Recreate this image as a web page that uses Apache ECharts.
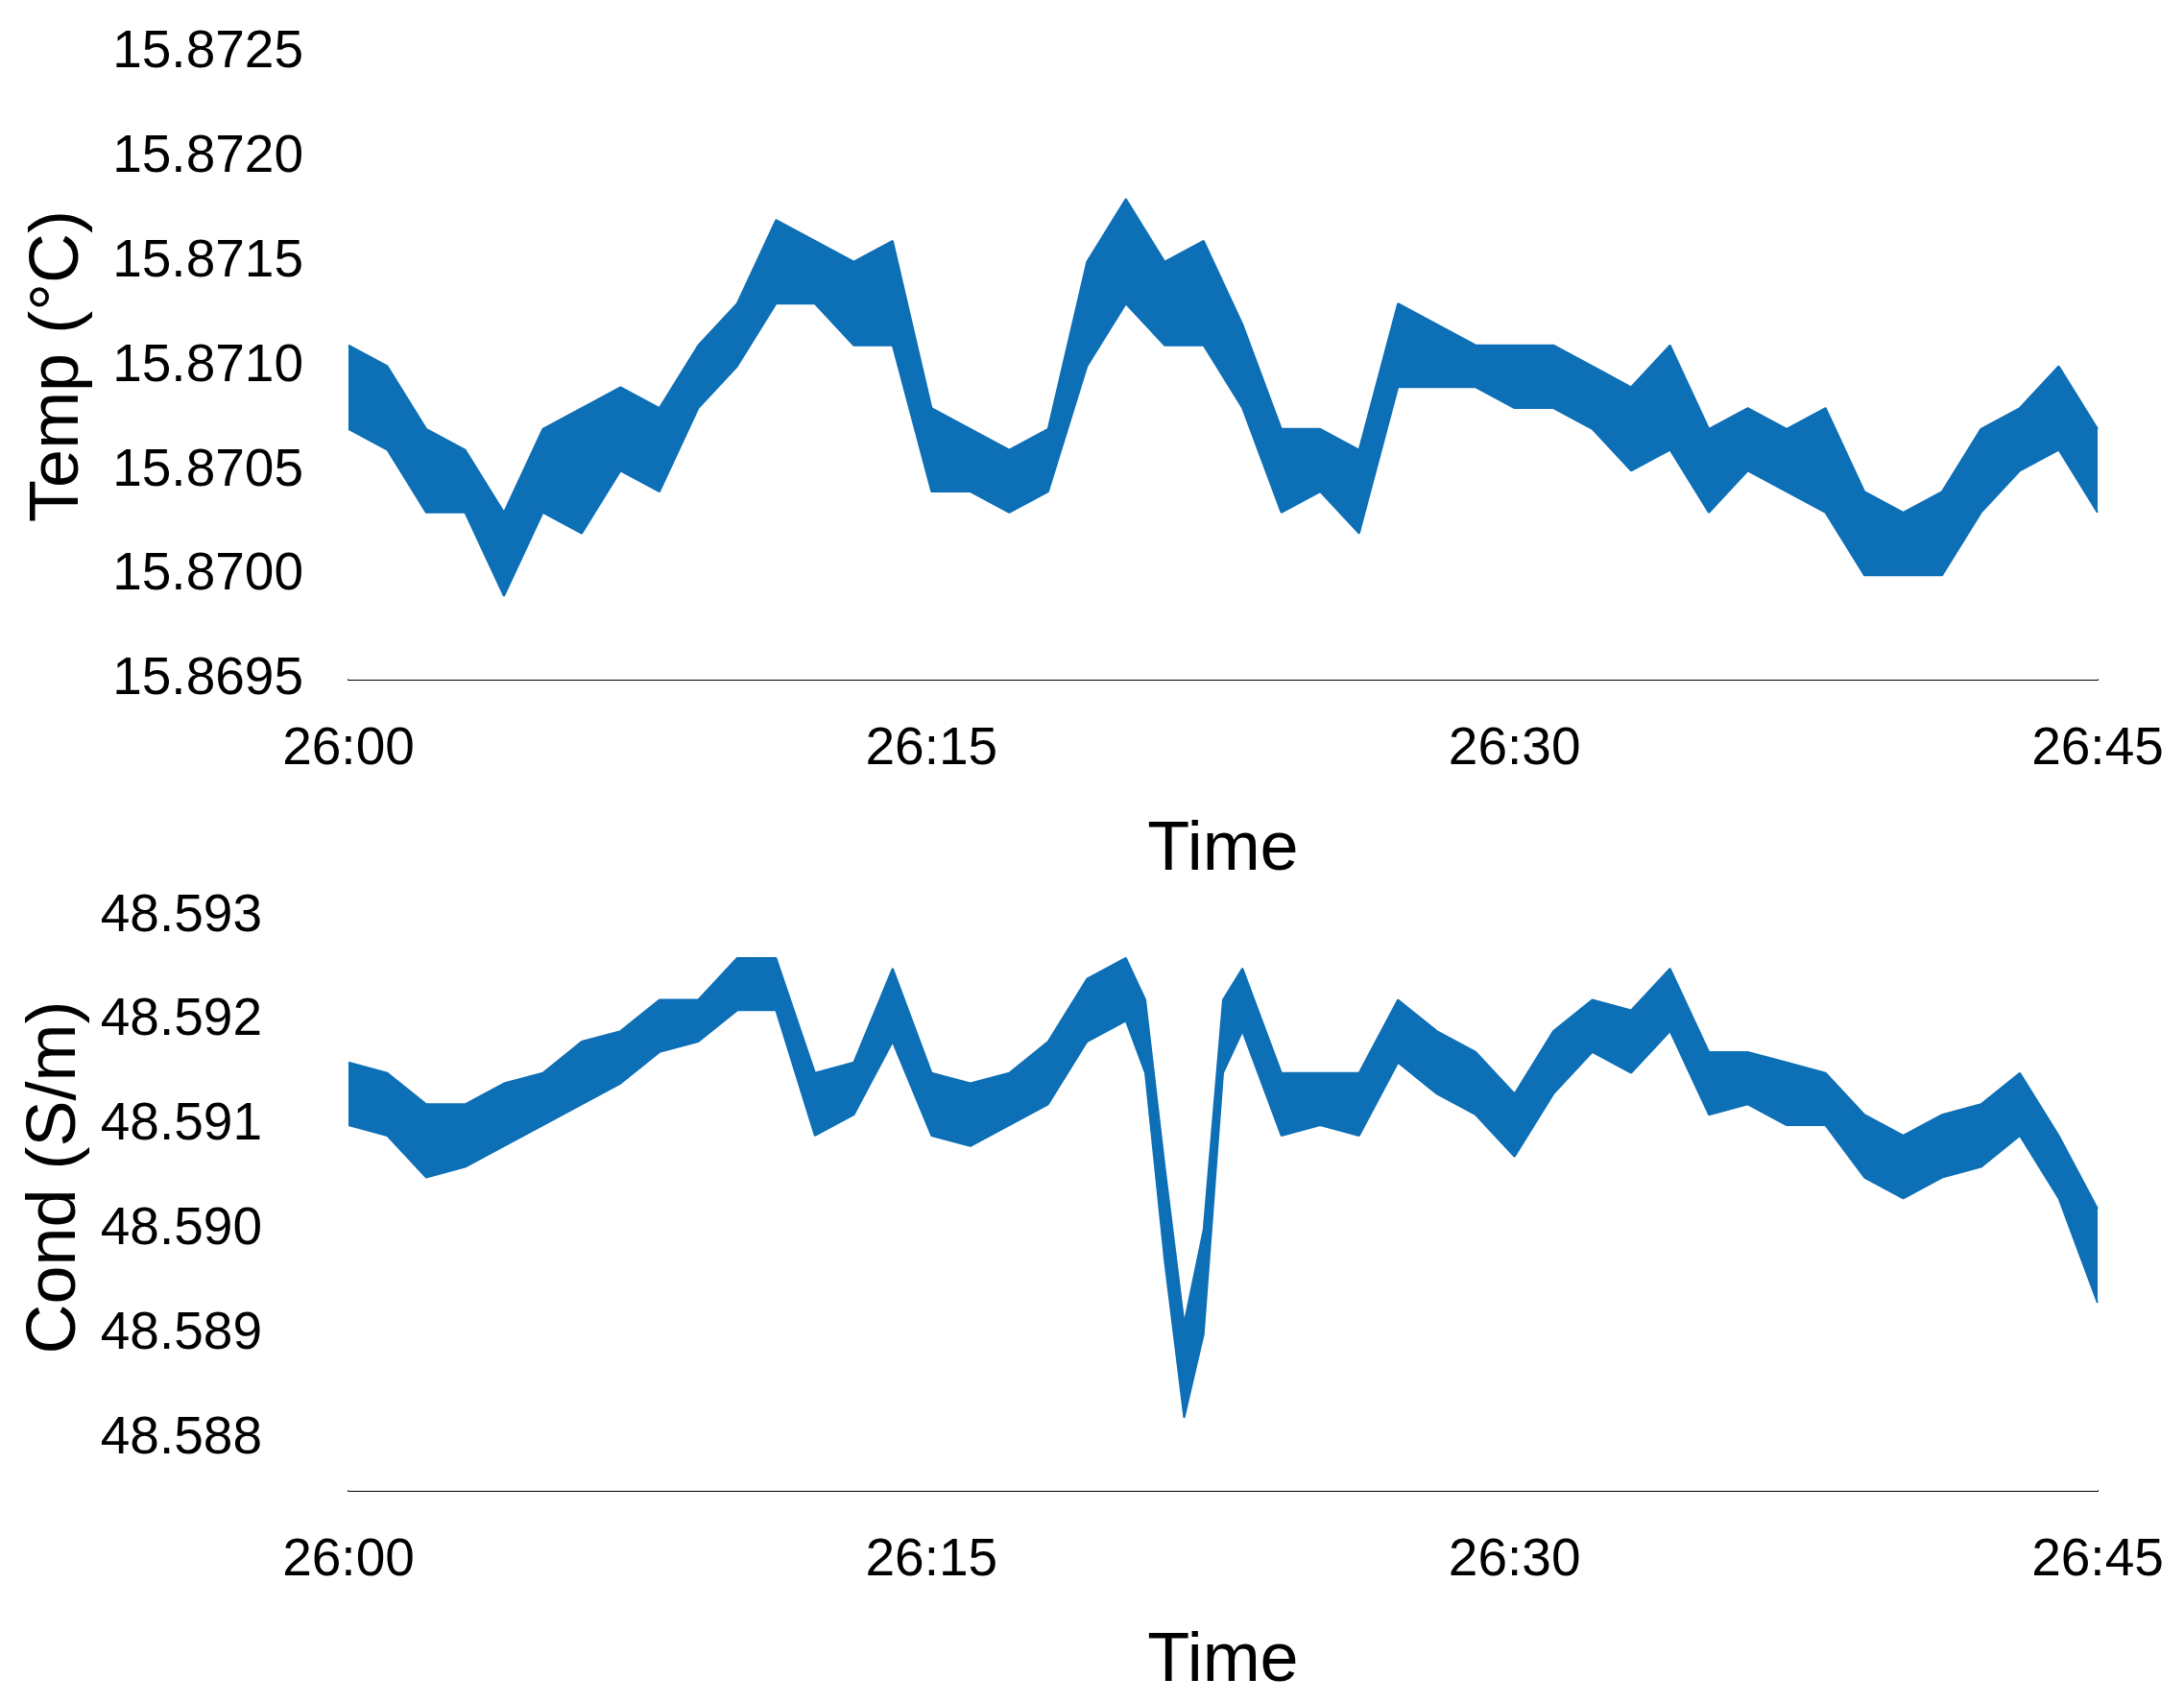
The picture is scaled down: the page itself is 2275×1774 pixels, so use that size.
<!DOCTYPE html>
<html><head><meta charset="utf-8">
<script src="https://cdn.jsdelivr.net/npm/echarts@6/dist/echarts.min.js"></script>
<style>html,body{margin:0;background:#fff}#c{width:2275px;height:1774px}</style>
</head><body><div id="c"></div>
<script>
// minutes after 26:00
const tempTime = [0,1,2,3,4,5,6,7,8,9,10,11,12,13,14,15,16,17,18,19,20,21,22,23,24,25,26,27,28,29,30,31,32,33,34,35,36,37,38,39,40,41,42,43,44,45];
const tempLow  = [15.8707,15.8706,15.8703,15.8703,15.8699,15.8703,15.8702,15.8705,15.8704,15.8708,15.8710,15.8713,15.8713,15.8711,15.8711,15.8704,15.8704,15.8703,15.8704,15.8710,15.8713,15.8711,15.8711,15.8708,15.8703,15.8704,15.8702,15.8709,15.8709,15.8709,15.8708,15.8708,15.8707,15.8705,15.8706,15.8703,15.8705,15.8704,15.8703,15.8700,15.8700,15.8700,15.8703,15.8705,15.8706,15.8703];
const tempHigh = [15.8711,15.8710,15.8707,15.8706,15.8703,15.8707,15.8708,15.8709,15.8708,15.8711,15.8713,15.8717,15.8716,15.8715,15.8716,15.8708,15.8707,15.8706,15.8707,15.8715,15.8718,15.8715,15.8716,15.8712,15.8707,15.8707,15.8706,15.8713,15.8712,15.8711,15.8711,15.8711,15.8710,15.8709,15.8711,15.8707,15.8708,15.8707,15.8708,15.8704,15.8703,15.8704,15.8707,15.8708,15.8710,15.8707];
const condTime = [0,1,2,3,4,5,6,7,8,9,10,11,12,13,14,15,16,17,18,19,20,20.5,21,21.5,22,22.5,23,24,25,26,27,28,29,30,31,32,33,34,35,36,37,38,39,40,41,42,43,44,45];
const condLow  = [48.5910,48.5909,48.5905,48.5906,48.5908,48.5910,48.5912,48.5914,48.5917,48.5918,48.5921,48.5921,48.5909,48.5911,48.5918,48.5909,48.5908,48.5910,48.5912,48.5918,48.5920,48.5915,48.5897,48.5882,48.5890,48.5915,48.5919,48.5909,48.5910,48.5909,48.5916,48.5913,48.5911,48.5907,48.5913,48.5917,48.5915,48.5919,48.5911,48.5912,48.5910,48.5910,48.5905,48.5903,48.5905,48.5906,48.5909,48.5903,48.5893];
const condHigh = [48.5916,48.5915,48.5912,48.5912,48.5914,48.5915,48.5918,48.5919,48.5922,48.5922,48.5926,48.5926,48.5915,48.5916,48.5925,48.5915,48.5914,48.5915,48.5918,48.5924,48.5926,48.5922,48.5906,48.5891,48.5900,48.5922,48.5925,48.5915,48.5915,48.5915,48.5922,48.5919,48.5917,48.5913,48.5919,48.5922,48.5921,48.5925,48.5917,48.5917,48.5916,48.5915,48.5911,48.5909,48.5911,48.5912,48.5915,48.5909,48.5902];
const xTicks = ['26:00','26:15','26:30','26:45'];

const blue = '#0d6fb6';
const font = 'Arial, "Liberation Sans", sans-serif';
function pair(t, a){ return t.map((x,i)=>[x,a[i]]); }
function xAxis(gi){ return {type:'value',gridIndex:gi,min:0,max:45,interval:15,
  name:'Time',nameLocation:'middle',nameGap:142,nameTextStyle:{fontSize:72,color:'#000',fontFamily:font},
  axisLine:{onZero:false,lineStyle:{color:'#000',width:2}},axisTick:{show:false},splitLine:{show:false},
  axisLabel:{fontSize:55,color:'#000',fontFamily:font,margin:45,formatter:v=>xTicks[v/15]}}; }
function hiSeries(xi,t,a){ return {type:'line',xAxisIndex:xi,yAxisIndex:xi,data:pair(t,a),symbol:'none',z:2,
  lineStyle:{color:blue,width:2},areaStyle:{color:blue,opacity:1,origin:'start'}}; }
function loSeries(xi,t,a){ return {type:'line',xAxisIndex:xi,yAxisIndex:xi,data:pair(t,a),symbol:'none',z:3,
  lineStyle:{color:blue,width:2},areaStyle:{color:'#fff',opacity:1,origin:'start'}}; }
const chart = echarts.init(document.getElementById('c'));
chart.setOption({
  animation:false,
  grid:[{left:363,right:90,top:55,height:653},{left:363,right:90,top:900,height:653}],
  xAxis:[xAxis(0),xAxis(1)],
  yAxis:[
    {type:'value',gridIndex:0,min:15.8695,max:15.8725,interval:0.0005,
     name:'Temp (°C)',nameLocation:'middle',nameGap:266,nameTextStyle:{fontSize:72,color:'#000',fontFamily:font},
     axisLine:{show:false},axisTick:{show:false},splitLine:{show:false},
     axisLabel:{fontSize:55,color:'#000',fontFamily:font,margin:47,formatter:v=>v.toFixed(4)}},
    {type:'value',gridIndex:1,min:48.5875,max:48.5935,interval:0.0005,
     name:'Cond (S/m)',nameLocation:'middle',nameGap:237,nameTextStyle:{fontSize:72,color:'#000',fontFamily:font},
     axisLine:{show:false},axisTick:{show:false},splitLine:{show:false},
     axisLabel:{fontSize:55,color:'#000',fontFamily:font,margin:90,
       formatter:v=>{const k=Math.round(v*10000);return k%10===0?v.toFixed(3):'';}}}
  ],
  series:[
    hiSeries(0,tempTime,tempHigh), loSeries(0,tempTime,tempLow),
    hiSeries(1,condTime,condHigh), loSeries(1,condTime,condLow)
  ]
});
</script></body></html>
